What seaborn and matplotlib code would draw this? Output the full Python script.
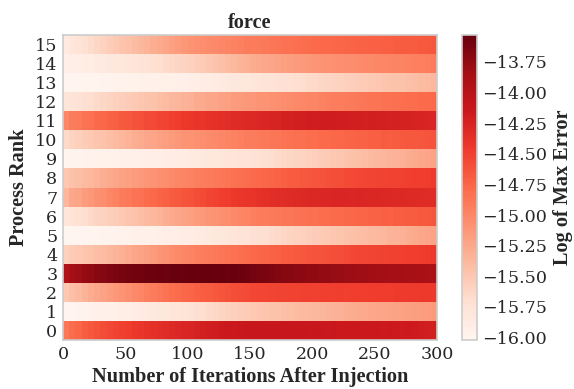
import numpy as np
import pandas as pd
import matplotlib
matplotlib.use("Agg")
import matplotlib.pyplot as plt
import seaborn as sns

# Iteration bins (5 iterations each) after the fault injection
iter_step = 5
ranks = list(range(16))
x_tick_values = [0, 50, 100, 150, 200, 250, 300]

# log10 of the maximum force error, one list per process rank
rank_00 = [-14.88, -14.80, -14.75, -14.69, -14.65, -14.61, -14.58, -14.55, -14.52, -14.49,
           -14.47, -14.44, -14.42, -14.39, -14.37, -14.35, -14.33, -14.31, -14.29, -14.27,
           -14.26, -14.24, -14.22, -14.20, -14.19, -14.17, -14.16, -14.15, -14.14, -14.12,
           -14.12, -14.11, -14.12, -14.12, -14.11, -14.12, -14.13, -14.12, -14.13, -14.14,
           -14.13, -14.14, -14.15, -14.14, -14.15, -14.15, -14.16, -14.15, -14.15, -14.16,
           -14.16, -14.17, -14.16, -14.17, -14.18, -14.17, -14.18, -14.19, -14.20, -14.21]
rank_01 = [-16.01, -16.00, -15.99, -15.99, -15.98, -15.96, -15.96, -15.94, -15.94, -15.92,
           -15.91, -15.89, -15.87, -15.85, -15.84, -15.82, -15.80, -15.78, -15.77, -15.75,
           -15.73, -15.70, -15.68, -15.66, -15.64, -15.61, -15.59, -15.57, -15.55, -15.53,
           -15.51, -15.49, -15.48, -15.46, -15.45, -15.43, -15.42, -15.40, -15.39, -15.38,
           -15.37, -15.35, -15.34, -15.32, -15.31, -15.30, -15.29, -15.27, -15.26, -15.25,
           -15.24, -15.23, -15.22, -15.21, -15.20, -15.19, -15.18, -15.17, -15.16, -15.15]
rank_02 = [-15.50, -15.43, -15.39, -15.34, -15.29, -15.25, -15.21, -15.17, -15.13, -15.09,
           -15.06, -15.02, -14.99, -14.95, -14.92, -14.88, -14.85, -14.81, -14.79, -14.76,
           -14.74, -14.71, -14.69, -14.67, -14.65, -14.63, -14.61, -14.59, -14.58, -14.56,
           -14.55, -14.54, -14.54, -14.53, -14.52, -14.52, -14.51, -14.51, -14.50, -14.50,
           -14.50, -14.49, -14.49, -14.49, -14.48, -14.49, -14.48, -14.48, -14.48, -14.47,
           -14.47, -14.47, -14.47, -14.46, -14.46, -14.46, -14.46, -14.45, -14.45, -14.45]
rank_03 = [-13.94, -13.86, -13.82, -13.77, -13.74, -13.70, -13.68, -13.65, -13.63, -13.61,
           -13.60, -13.58, -13.58, -13.56, -13.56, -13.55, -13.56, -13.54, -13.54, -13.55,
           -13.53, -13.54, -13.53, -13.53, -13.54, -13.53, -13.55, -13.54, -13.56, -13.57,
           -13.59, -13.61, -13.63, -13.65, -13.67, -13.69, -13.70, -13.72, -13.72, -13.74,
           -13.74, -13.76, -13.76, -13.78, -13.78, -13.80, -13.80, -13.82, -13.82, -13.83,
           -13.84, -13.84, -13.85, -13.86, -13.86, -13.87, -13.88, -13.88, -13.89, -13.90]
rank_04 = [-15.58, -15.53, -15.51, -15.48, -15.45, -15.42, -15.40, -15.36, -15.34, -15.31,
           -15.28, -15.24, -15.21, -15.18, -15.15, -15.11, -15.08, -15.05, -15.02, -14.99,
           -14.97, -14.95, -14.93, -14.91, -14.89, -14.87, -14.85, -14.83, -14.81, -14.79,
           -14.77, -14.75, -14.74, -14.72, -14.71, -14.69, -14.68, -14.66, -14.65, -14.63,
           -14.62, -14.61, -14.60, -14.59, -14.58, -14.56, -14.55, -14.54, -14.54, -14.53,
           -14.52, -14.51, -14.50, -14.50, -14.49, -14.48, -14.48, -14.47, -14.46, -14.45]
rank_05 = [-16.02, -16.02, -16.01, -16.01, -16.00, -16.00, -15.99, -15.99, -15.98, -15.98,
           -15.97, -15.96, -15.95, -15.95, -15.94, -15.93, -15.92, -15.92, -15.91, -15.90,
           -15.89, -15.87, -15.86, -15.84, -15.82, -15.80, -15.79, -15.77, -15.76, -15.74,
           -15.72, -15.70, -15.69, -15.67, -15.65, -15.63, -15.61, -15.59, -15.58, -15.56,
           -15.54, -15.52, -15.51, -15.49, -15.48, -15.46, -15.44, -15.42, -15.41, -15.39,
           -15.38, -15.36, -15.34, -15.32, -15.31, -15.29, -15.27, -15.25, -15.23, -15.21]
rank_06 = [-15.79, -15.74, -15.71, -15.68, -15.65, -15.62, -15.59, -15.56, -15.54, -15.51,
           -15.48, -15.45, -15.42, -15.39, -15.36, -15.33, -15.30, -15.27, -15.24, -15.21,
           -15.19, -15.16, -15.14, -15.11, -15.09, -15.06, -15.04, -15.01, -14.99, -14.97,
           -14.95, -14.93, -14.92, -14.90, -14.89, -14.87, -14.87, -14.85, -14.84, -14.82,
           -14.82, -14.80, -14.80, -14.78, -14.78, -14.76, -14.76, -14.74, -14.74, -14.72,
           -14.72, -14.70, -14.71, -14.69, -14.69, -14.67, -14.67, -14.66, -14.65, -14.64]
rank_07 = [-15.36, -15.25, -15.22, -15.16, -15.13, -15.07, -15.04, -14.99, -14.96, -14.92,
           -14.89, -14.85, -14.83, -14.79, -14.77, -14.73, -14.71, -14.68, -14.66, -14.63,
           -14.61, -14.58, -14.56, -14.53, -14.51, -14.48, -14.47, -14.44, -14.43, -14.41,
           -14.40, -14.38, -14.37, -14.35, -14.34, -14.33, -14.32, -14.31, -14.30, -14.29,
           -14.29, -14.28, -14.28, -14.27, -14.27, -14.27, -14.28, -14.27, -14.28, -14.28,
           -14.28, -14.29, -14.29, -14.30, -14.30, -14.31, -14.31, -14.32, -14.32, -14.33]
rank_08 = [-15.50, -15.45, -15.42, -15.39, -15.36, -15.33, -15.30, -15.27, -15.24, -15.21,
           -15.19, -15.16, -15.14, -15.11, -15.09, -15.06, -15.04, -15.02, -15.00, -14.98,
           -14.96, -14.95, -14.93, -14.91, -14.89, -14.88, -14.86, -14.84, -14.82, -14.80,
           -14.78, -14.77, -14.75, -14.74, -14.72, -14.70, -14.68, -14.67, -14.65, -14.64,
           -14.63, -14.62, -14.60, -14.59, -14.58, -14.57, -14.56, -14.55, -14.54, -14.53,
           -14.52, -14.52, -14.51, -14.51, -14.50, -14.49, -14.48, -14.48, -14.47, -14.46]
rank_09 = [-16.00, -15.99, -15.99, -15.98, -15.98, -15.97, -15.97, -15.97, -15.97, -15.96,
           -15.95, -15.94, -15.93, -15.92, -15.92, -15.91, -15.90, -15.89, -15.89, -15.88,
           -15.86, -15.85, -15.84, -15.82, -15.81, -15.79, -15.78, -15.77, -15.76, -15.74,
           -15.73, -15.71, -15.70, -15.68, -15.66, -15.64, -15.63, -15.61, -15.60, -15.58,
           -15.56, -15.54, -15.52, -15.50, -15.49, -15.47, -15.45, -15.43, -15.41, -15.39,
           -15.37, -15.35, -15.34, -15.32, -15.31, -15.29, -15.27, -15.25, -15.23, -15.21]
rank_10 = [-15.66, -15.60, -15.57, -15.54, -15.51, -15.48, -15.45, -15.42, -15.39, -15.36,
           -15.33, -15.30, -15.28, -15.25, -15.23, -15.20, -15.18, -15.15, -15.13, -15.10,
           -15.09, -15.07, -15.05, -15.03, -15.01, -14.99, -14.98, -14.96, -14.94, -14.92,
           -14.92, -14.90, -14.89, -14.87, -14.87, -14.85, -14.84, -14.82, -14.82, -14.80,
           -14.80, -14.78, -14.78, -14.76, -14.76, -14.74, -14.73, -14.72, -14.72, -14.70,
           -14.70, -14.68, -14.69, -14.67, -14.66, -14.65, -14.65, -14.64, -14.63, -14.62]
rank_11 = [-14.99, -14.92, -14.90, -14.85, -14.83, -14.78, -14.76, -14.72, -14.70, -14.66,
           -14.65, -14.61, -14.60, -14.57, -14.56, -14.53, -14.52, -14.49, -14.47, -14.44,
           -14.43, -14.41, -14.40, -14.38, -14.37, -14.35, -14.34, -14.32, -14.32, -14.30,
           -14.30, -14.28, -14.27, -14.25, -14.25, -14.23, -14.23, -14.21, -14.21, -14.19,
           -14.20, -14.19, -14.19, -14.19, -14.20, -14.20, -14.21, -14.21, -14.22, -14.21,
           -14.22, -14.22, -14.23, -14.23, -14.24, -14.24, -14.25, -14.25, -14.26, -14.27]
rank_12 = [-15.78, -15.75, -15.73, -15.70, -15.68, -15.66, -15.63, -15.61, -15.58, -15.56,
           -15.54, -15.51, -15.49, -15.47, -15.45, -15.42, -15.40, -15.37, -15.35, -15.32,
           -15.31, -15.28, -15.27, -15.24, -15.23, -15.20, -15.19, -15.16, -15.15, -15.13,
           -15.12, -15.10, -15.09, -15.07, -15.06, -15.04, -15.03, -15.01, -15.00, -14.98,
           -14.98, -14.96, -14.95, -14.93, -14.93, -14.91, -14.90, -14.88, -14.87, -14.86,
           -14.86, -14.84, -14.84, -14.82, -14.81, -14.80, -14.80, -14.78, -14.78, -14.77]
rank_13 = [-16.01, -16.01, -16.00, -16.00, -16.00, -16.00, -15.99, -15.99, -15.98, -15.98,
           -15.97, -15.97, -15.96, -15.96, -15.95, -15.95, -15.94, -15.94, -15.93, -15.93,
           -15.92, -15.91, -15.90, -15.88, -15.87, -15.86, -15.84, -15.83, -15.82, -15.80,
           -15.79, -15.77, -15.76, -15.74, -15.73, -15.72, -15.71, -15.69, -15.68, -15.66,
           -15.65, -15.63, -15.62, -15.60, -15.59, -15.57, -15.56, -15.54, -15.53, -15.51,
           -15.50, -15.48, -15.47, -15.46, -15.45, -15.43, -15.42, -15.40, -15.39, -15.37]
rank_14 = [-15.93, -15.92, -15.91, -15.89, -15.88, -15.86, -15.85, -15.83, -15.82, -15.80,
           -15.79, -15.77, -15.75, -15.73, -15.71, -15.69, -15.66, -15.64, -15.62, -15.60,
           -15.58, -15.55, -15.52, -15.49, -15.46, -15.43, -15.40, -15.37, -15.34, -15.31,
           -15.29, -15.27, -15.25, -15.23, -15.21, -15.19, -15.17, -15.15, -15.14, -15.12,
           -15.11, -15.10, -15.08, -15.07, -15.06, -15.05, -15.04, -15.03, -15.02, -15.01,
           -15.00, -14.99, -14.98, -14.97, -14.97, -14.96, -14.95, -14.94, -14.93, -14.92]
rank_15 = [-15.85, -15.79, -15.75, -15.71, -15.67, -15.63, -15.59, -15.55, -15.51, -15.47,
           -15.44, -15.40, -15.37, -15.33, -15.30, -15.26, -15.23, -15.19, -15.16, -15.12,
           -15.10, -15.07, -15.05, -15.03, -15.01, -14.99, -14.98, -14.96, -14.94, -14.92,
           -14.91, -14.90, -14.89, -14.87, -14.86, -14.84, -14.83, -14.82, -14.80, -14.79,
           -14.78, -14.77, -14.77, -14.76, -14.75, -14.74, -14.73, -14.72, -14.72, -14.71,
           -14.71, -14.70, -14.70, -14.69, -14.68, -14.67, -14.67, -14.66, -14.65, -14.64]

rows = [rank_00, rank_01, rank_02, rank_03, rank_04, rank_05, rank_06, rank_07,
        rank_08, rank_09, rank_10, rank_11, rank_12, rank_13, rank_14, rank_15]
n_bins = len(rank_00)
errors = pd.DataFrame(rows, index=ranks,
                      columns=[i * iter_step for i in range(n_bins)])

sns.set_theme(style="white")
plt.rcParams["font.family"] = ["DejaVu Serif"]
text_color = "#262626"
frame_color = "#cccccc"

fig = plt.figure(figsize=(5.74, 3.89), dpi=100)
ax = fig.add_axes([63 / 574, 49 / 389, 374 / 574, 305 / 389])
cax = fig.add_axes([462 / 574, 49 / 389, 15 / 574, 305 / 389])

sns.heatmap(errors, ax=ax, cbar_ax=cax, cmap="Reds",
            vmin=-16.02, vmax=-13.53, xticklabels=False, yticklabels=False)
ax.invert_yaxis()

# Axis ticks in data units: one heatmap column per iter_step iterations
ax.set_xticks([v / iter_step for v in x_tick_values])
ax.set_xticklabels([str(v) for v in x_tick_values], rotation=0)
ax.set_yticks([r + 0.5 for r in ranks])
ax.set_yticklabels([str(r) for r in ranks], rotation=0)
ax.tick_params(axis="both", length=0, labelsize=12.6, colors=text_color, pad=4)

for spine in ax.spines.values():
    spine.set_visible(True)
    spine.set_color(frame_color)
    spine.set_linewidth(1.2)

label_font = dict(family=["Liberation Serif", "DejaVu Serif"], weight="bold",
                  size=14.6, color=text_color)
ax.set_xlabel("Number of Iterations After Injection", labelpad=3, **label_font)
ax.set_ylabel("Process Rank", labelpad=4, **label_font)
ax.set_title("force", pad=5, **label_font)

cbar = ax.collections[0].colorbar
cbar.set_ticks([-13.75, -14.0, -14.25, -14.5, -14.75, -15.0, -15.25, -15.5, -15.75, -16.0])
cbar.ax.tick_params(length=0, labelsize=12.6, colors=text_color, pad=4)
cbar.outline.set_visible(True)
cbar.outline.set_edgecolor(frame_color)
cbar.outline.set_linewidth(1.2)
cbar.set_label("Log of Max Error", labelpad=4, **label_font)

fig.savefig("out.png", dpi=100)
